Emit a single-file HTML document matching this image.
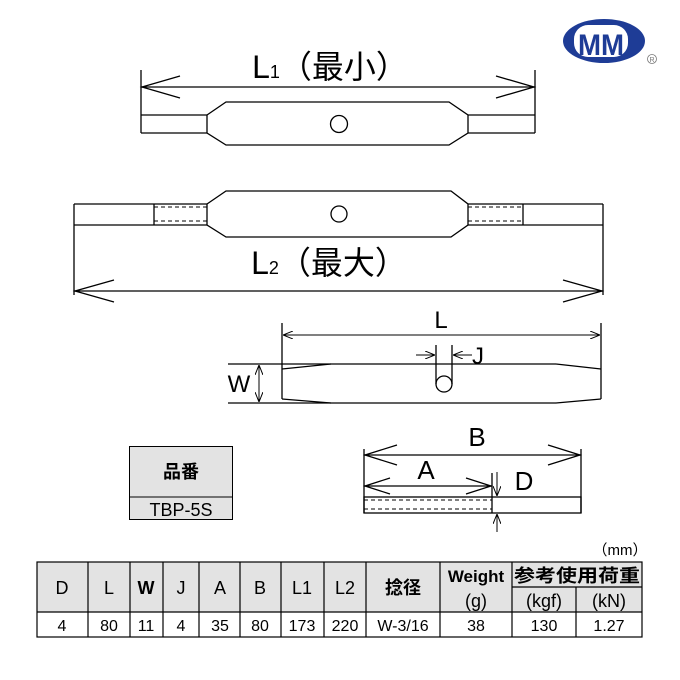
<!DOCTYPE html>
<html><head><meta charset="utf-8"><style>
html,body{margin:0;padding:0;background:#fff;}
svg{display:block;}
text{font-family:"Liberation Sans","Noto Sans CJK JP",sans-serif;fill:#000;}
</style></head><body>
<svg width="680" height="680" viewBox="0 0 680 680" xmlns="http://www.w3.org/2000/svg">
<defs>
<marker id="ah" markerWidth="10" markerHeight="8" refX="10" refY="4" orient="auto" markerUnits="userSpaceOnUse"><path d="M0,0 L10,4 L0,8" fill="none" stroke="#000" stroke-width="1"/></marker>
</defs>
<g stroke="#000" stroke-width="1.3" fill="none">
<line x1="141" y1="70" x2="141" y2="133"/>
<line x1="535" y1="70" x2="535" y2="133"/>
<line x1="141" y1="87" x2="535" y2="87"/>
<polyline points="180,76 142,87 180,98"/>
<polyline points="496,76 534,87 496,98"/>
<line x1="141" y1="115" x2="207" y2="115"/><line x1="141" y1="133" x2="207" y2="133"/>
<line x1="468" y1="115" x2="535" y2="115"/><line x1="468" y1="133" x2="535" y2="133"/>
<polygon points="207,115 226,102 449,102 468,115 468,133 449,145 226,145 207,133"/>
<circle cx="339" cy="124" r="8.5"/>
<line x1="74" y1="204" x2="74" y2="295"/>
<line x1="603" y1="204" x2="603" y2="295"/>
<line x1="74" y1="291" x2="603" y2="291"/>
<polyline points="114,280 75,291 114,302"/>
<polyline points="563,280 602,291 563,302"/>
<line x1="74" y1="204" x2="207" y2="204"/><line x1="74" y1="225" x2="207" y2="225"/>
<line x1="468" y1="204" x2="603" y2="204"/><line x1="468" y1="225" x2="603" y2="225"/>
<line x1="154" y1="204" x2="154" y2="225"/><line x1="523" y1="204" x2="523" y2="225"/>
<polygon points="207,204 226,191 451,191 468,204 468,225 451,237 226,237 207,225"/>
<circle cx="339" cy="214" r="8"/>
<g stroke-dasharray="4,3" stroke-width="1">
<line x1="154" y1="207" x2="207" y2="207"/><line x1="154" y1="221" x2="207" y2="221"/>
<line x1="468" y1="207" x2="523" y2="207"/><line x1="468" y1="221" x2="523" y2="221"/>
</g>
<line x1="282" y1="323" x2="282" y2="399"/>
<line x1="601" y1="323" x2="601" y2="399"/>
<line x1="283" y1="335" x2="600" y2="335" stroke-width="1" marker-end="url(#ah)"/>
<line x1="600" y1="335" x2="283" y2="335" stroke-width="1" marker-end="url(#ah)"/>
<line x1="228" y1="364" x2="556" y2="364"/>
<line x1="228" y1="403" x2="556" y2="403"/>
<polyline points="282,369 331,364"/>
<polyline points="282,399 331,403"/>
<polyline points="556,364 601,369"/>
<polyline points="556,403 601,399"/>
<line x1="436" y1="345" x2="436" y2="384"/>
<line x1="452" y1="345" x2="452" y2="384"/>
<circle cx="444" cy="384" r="8"/>
<line x1="416" y1="355" x2="435" y2="355" stroke-width="1" marker-end="url(#ah)"/>
<line x1="472" y1="355" x2="453" y2="355" stroke-width="1" marker-end="url(#ah)"/>
<line x1="259" y1="365" x2="259" y2="402" stroke-width="1" marker-end="url(#ah)"/>
<line x1="259" y1="402" x2="259" y2="365" stroke-width="1" marker-end="url(#ah)"/>
<line x1="364" y1="449" x2="364" y2="513"/>
<line x1="581" y1="449" x2="581" y2="513"/>
<line x1="364" y1="455" x2="581" y2="455"/>
<polyline points="397,445 365,455 397,465"/>
<polyline points="548,445 580,455 548,465"/>
<line x1="364" y1="486" x2="492" y2="486"/>
<polyline points="390,478 365,486 390,494"/>
<polyline points="466,478 491,486 466,494"/>
<line x1="492" y1="473" x2="492" y2="513"/>
<rect x="364" y="497" width="217" height="16"/>
<g stroke-dasharray="4,3" stroke-width="1">
<line x1="364" y1="500" x2="492" y2="500"/><line x1="364" y1="509" x2="492" y2="509"/>
</g>
<line x1="497" y1="472" x2="497" y2="496" stroke-width="1" marker-end="url(#ah)"/>
<line x1="497" y1="532" x2="497" y2="514" stroke-width="1" marker-end="url(#ah)"/>
</g>
<text x="330" y="78" font-size="32" text-anchor="middle">L<tspan font-size="18">1</tspan>（最小）</text>
<text x="329" y="274" font-size="32" text-anchor="middle">L<tspan font-size="18">2</tspan>（最大）</text>
<text x="441" y="328" font-size="24" text-anchor="middle">L</text>
<text x="472" y="364" font-size="24">J</text>
<text x="239" y="392" font-size="24" text-anchor="middle">W</text>
<text x="477" y="446" font-size="26" text-anchor="middle">B</text>
<text x="426" y="479" font-size="26" text-anchor="middle">A</text>
<text x="524" y="490" font-size="26" text-anchor="middle">D</text>
<ellipse cx="604" cy="41" rx="41" ry="22" fill="#1e3c96"/>
<rect x="574" y="25" width="54" height="32" rx="14" fill="#fff"/>
<text x="601" y="55" font-size="30" font-weight="bold" text-anchor="middle" style="fill:#1e3c96" textLength="46" lengthAdjust="spacingAndGlyphs">MM</text>
<circle cx="652" cy="59" r="4.5" fill="none" stroke="#777" stroke-width="0.8"/>
<text x="652" y="62" font-size="7" text-anchor="middle" style="fill:#777">R</text>
<rect x="129.5" y="446.5" width="103" height="73" fill="#e3e3e3" stroke="#000"/>
<line x1="129.5" y1="497" x2="232.5" y2="497" stroke="#000"/>
<text x="181" y="478" font-size="18" text-anchor="middle" font-weight="bold">品番</text>
<text x="181" y="516" font-size="18" text-anchor="middle">TBP-5S</text>
<text x="620" y="555" font-size="15" text-anchor="middle">（mm）</text>
<rect x="37" y="562" width="605" height="50" fill="#e3e3e3"/>
<g stroke="#000" stroke-width="1.2">
<rect x="37" y="562" width="605" height="75" fill="none"/>
<line x1="37" y1="612" x2="642" y2="612"/>
<line x1="512" y1="587" x2="642" y2="587"/>
<line x1="88" y1="562" x2="88" y2="637"/>
<line x1="130" y1="562" x2="130" y2="637"/>
<line x1="163" y1="562" x2="163" y2="637"/>
<line x1="199" y1="562" x2="199" y2="637"/>
<line x1="240" y1="562" x2="240" y2="637"/>
<line x1="281" y1="562" x2="281" y2="637"/>
<line x1="324" y1="562" x2="324" y2="637"/>
<line x1="366" y1="562" x2="366" y2="637"/>
<line x1="440" y1="562" x2="440" y2="637"/>
<line x1="512" y1="562" x2="512" y2="637"/>
<line x1="576" y1="587" x2="576" y2="637"/>
</g>
<g font-size="18" text-anchor="middle">
<text x="62" y="594">D</text><text x="109" y="594">L</text><text x="146" y="594" font-weight="bold">W</text>
<text x="181" y="594">J</text><text x="220" y="594">A</text><text x="260" y="594">B</text>
<text x="302" y="594">L1</text><text x="345" y="594">L2</text><text x="403" y="594" font-weight="bold">捻径</text>
<text x="476" y="582" font-weight="bold" font-size="17">Weight</text><text x="476" y="607">(g)</text>
<text x="577" y="582" font-weight="bold" textLength="126" lengthAdjust="spacingAndGlyphs">参考使用荷重</text>
<text x="544" y="607">(kgf)</text><text x="609" y="607">(kN)</text>
</g>
<g font-size="16" text-anchor="middle">
<text x="62" y="631">4</text><text x="109" y="631">80</text><text x="146" y="631">11</text>
<text x="181" y="631">4</text><text x="220" y="631">35</text><text x="260" y="631">80</text>
<text x="302" y="631">173</text><text x="345" y="631">220</text><text x="403" y="631">W-3/16</text>
<text x="476" y="631">38</text><text x="544" y="631">130</text><text x="609" y="631">1.27</text>
</g>
</svg>
</body></html>
